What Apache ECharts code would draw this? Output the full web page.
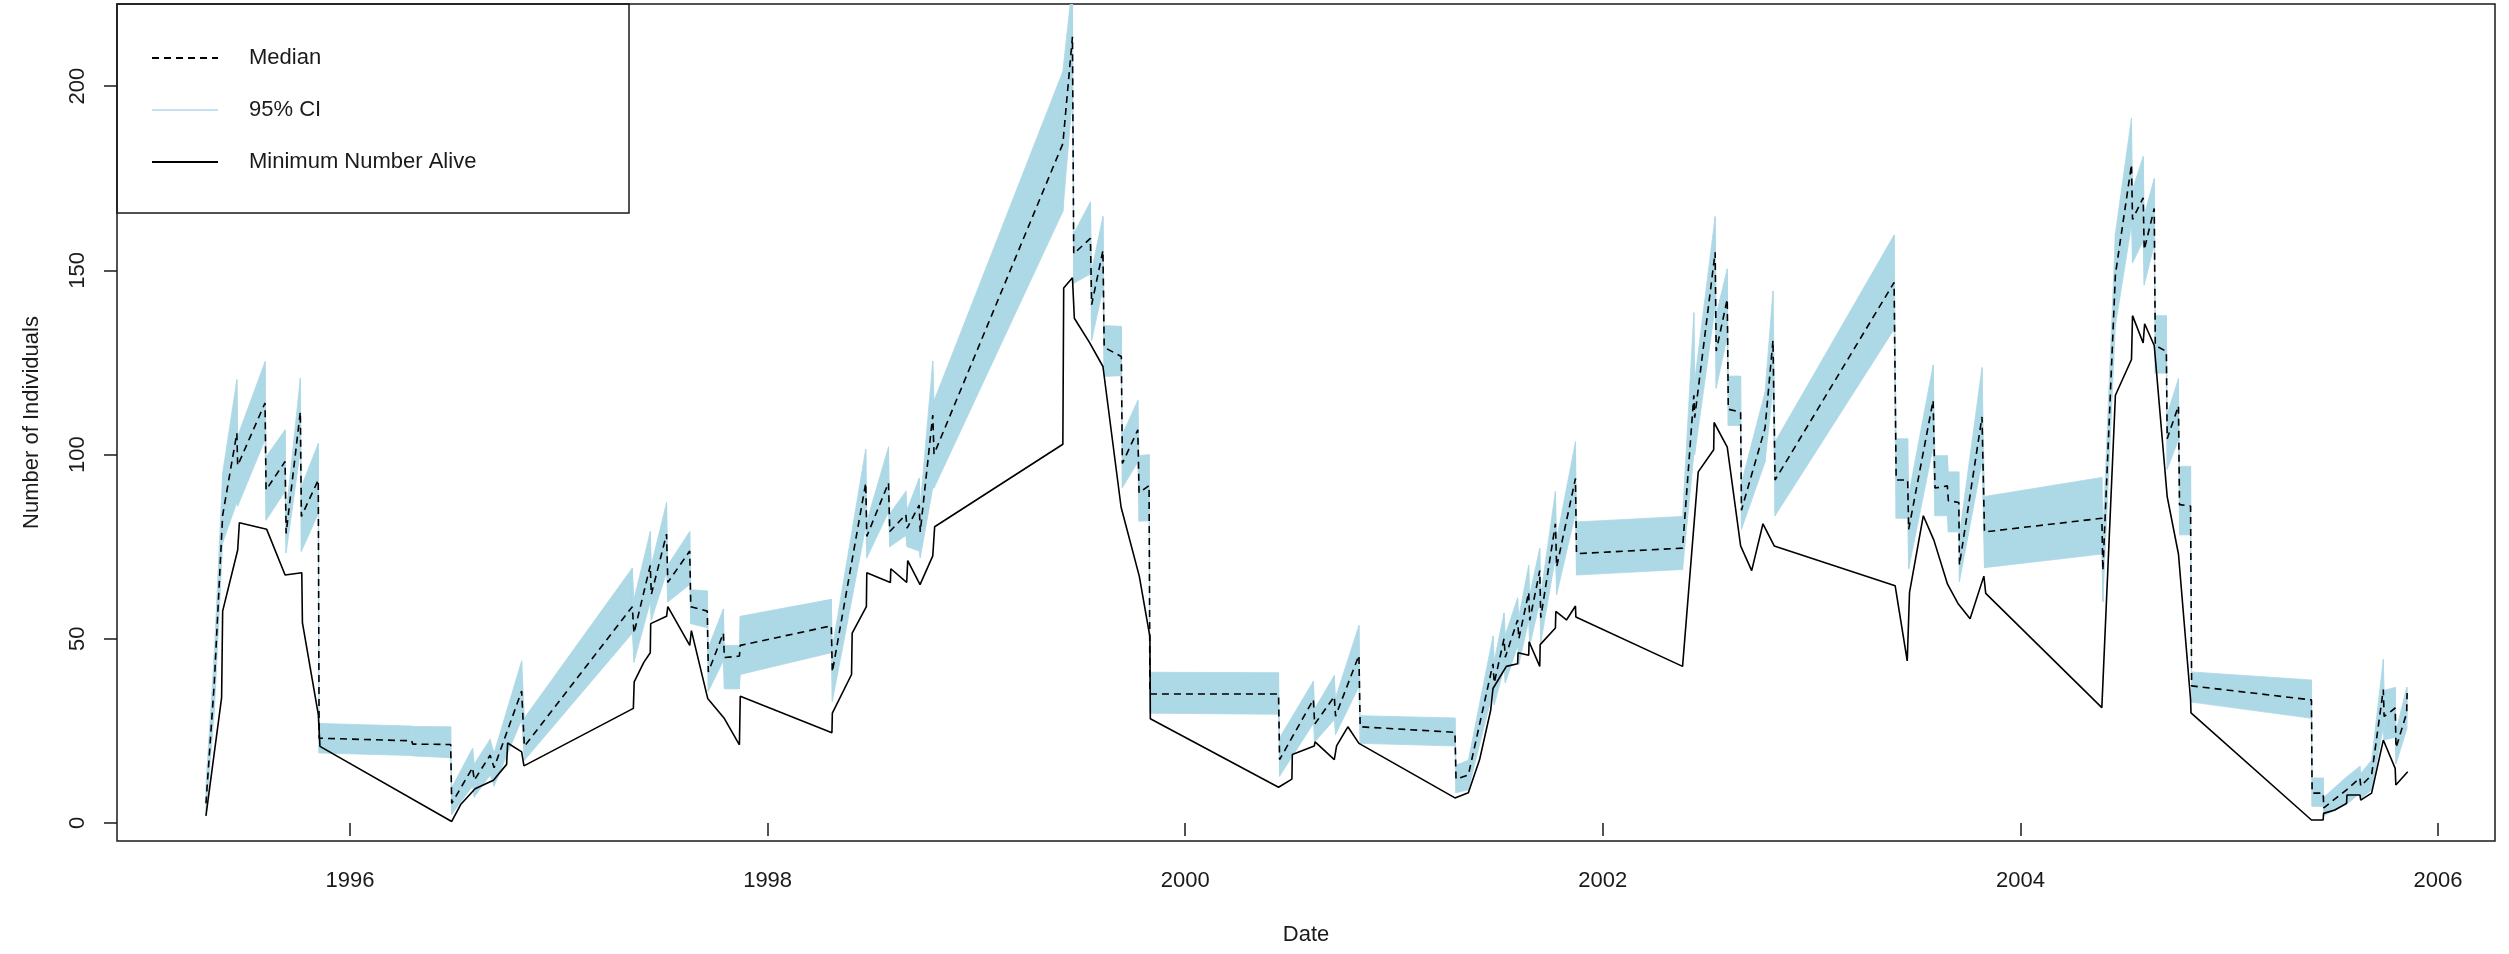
<!DOCTYPE html>
<html>
<head>
<meta charset="utf-8">
<script src="https://cdn.jsdelivr.net/npm/echarts@6/dist/echarts.min.js"></script>
<style>
    html, body { margin: 0; padding: 0; background: #fff; }
    #chart { width: 2509px; height: 954px; }
</style>
</head>
<body>
<div id="chart"></div>
<script>
// estimates (median + 95% CI), decimal years
const ciDates = [
    1995.310, 1995.350, 1995.390, 1995.458, 1995.462, 1995.593, 1995.598, 1995.689, 1995.694, 1995.762,
    1995.767, 1995.848, 1995.852, 1996.295, 1996.300, 1996.482, 1996.487, 1996.587, 1996.595, 1996.671,
    1996.690, 1996.822, 1996.835, 1997.352, 1997.360, 1997.438, 1997.443, 1997.516, 1997.522, 1997.627,
    1997.632, 1997.711, 1997.716, 1997.788, 1997.793, 1997.865, 1997.869, 1998.305, 1998.310, 1998.470,
    1998.475, 1998.579, 1998.585, 1998.662, 1998.668, 1998.726, 1998.731, 1998.791, 1998.797, 1999.414,
    1999.460, 1999.466, 1999.546, 1999.552, 1999.606, 1999.612, 1999.694, 1999.699, 1999.773, 1999.779,
    1999.827, 1999.831, 2000.447, 2000.452, 2000.614, 2000.620, 2000.714, 2000.720, 2000.832, 2000.838,
    2001.292, 2001.297, 2001.356, 2001.474, 2001.480, 2001.527, 2001.533, 2001.592, 2001.598, 2001.645,
    2001.650, 2001.698, 2001.703, 2001.773, 2001.779, 2001.869, 2001.874, 2002.382, 2002.436, 2002.440,
    2002.538, 2002.543, 2002.596, 2002.601, 2002.660, 2002.664, 2002.777, 2002.815, 2002.825, 2003.395,
    2003.405, 2003.460, 2003.465, 2003.582, 2003.591, 2003.650, 2003.655, 2003.705, 2003.708, 2003.816,
    2003.828, 2004.390, 2004.395, 2004.455, 2004.532, 2004.537, 2004.588, 2004.593, 2004.641, 2004.646,
    2004.699, 2004.703, 2004.757, 2004.762, 2004.815, 2004.820, 2005.394, 2005.397, 2005.450, 2005.453,
    2005.562, 2005.626, 2005.630, 2005.682, 2005.738, 2005.742, 2005.795, 2005.799, 2005.850, 2005.852
];
const ciLower = [
    3, 30, 76, 87, 86, 104, 82.2, 90, 73.3, 101,
    73.7, 84, 19, 18.3, 18.2, 17.7, 2.3, 10, 7, 13,
    10, 28, 17, 51.5, 43.6, 60, 55, 68, 60, 64.7,
    54.1, 53, 35.7, 44, 36.4, 36.4, 40.3, 46.2, 33, 80.4,
    71.9, 84.4, 75, 78, 75, 73.8, 72, 90.9, 90.9, 166,
    197, 146.5, 149, 131, 145, 121.2, 121.4, 91, 98, 81.9,
    82, 29.8, 29.5, 12.7, 27, 22, 28, 24, 37, 21.6,
    20.9, 8.2, 9, 35.8, 32, 42, 38, 48, 43, 55,
    48, 60, 49, 72, 62, 84, 67.3, 68.8, 100, 100,
    140, 118, 132, 107.9, 107.9, 79.7, 98, 118, 83.4, 134,
    82.7, 82.7, 69, 102, 83.4, 83.4, 79, 79, 65.5, 98,
    69.3, 73, 60, 135, 162.3, 152, 158, 146, 157, 122.1,
    122.1, 96, 104, 78.2, 78.2, 32.8, 28.4, 4.5, 4.5, 2,
    5, 8.1, 6.5, 9, 26, 22.6, 23.2, 16, 25.4, 29
];
const ciMedian = [
    5.3, 38, 83.5, 105.8, 97, 114, 90.4, 98.1, 78.6, 111.6,
    83.2, 93.1, 23, 22.3, 21.4, 21.3, 5.3, 15, 11.6, 18.4,
    15, 35.8, 20.8, 58.7, 51.5, 69.9, 62, 78.4, 65.3, 73.8,
    58.7, 57.5, 41, 51.5, 44.9, 45.3, 48.2, 53.5, 41, 92.3,
    77.8, 92.3, 79.1, 83.7, 80, 86.3, 79, 110.7, 100.1, 184.4,
    213.4, 154.5, 158.7, 140.7, 155.4, 129.1, 126.6, 97.6, 106.7, 89.6,
    91.6, 35, 35, 17.2, 33.5, 26.8, 34.3, 29, 45.5, 26.1,
    24.6, 11.9, 13, 43.2, 38, 50, 45, 55.1, 50, 62.6,
    55, 68.5, 55.7, 81.2, 69.5, 93.5, 73.1, 74.6, 116.1, 110,
    154.9, 128.1, 142.2, 112.3, 111.5, 84.9, 107.2, 131, 93.1, 146.7,
    93.1, 93.1, 79.7, 114.7, 90.9, 91.5, 87.5, 87, 70, 110.2,
    79, 82.7, 68.5, 148.9, 178.7, 163.8, 169.7, 155.6, 166.8, 129.6,
    128, 104.3, 113.2, 86.4, 86, 37.2, 33.4, 8.1, 8.1, 4.1,
    9, 12.2, 10, 13, 36.2, 28.9, 31.2, 20.4, 29.9, 35.3
];
const ciUpper = [
    10, 46, 95, 120.3, 105, 125.2, 99.4, 106.7, 84.2, 120.7,
    91.3, 103, 27, 26.3, 26.2, 26.1, 9.6, 20.3, 16, 22.7,
    19, 44, 28.5, 69.2, 60.7, 79.1, 70, 87, 70, 79.1,
    63.3, 63, 47.6, 58.1, 48.2, 48.2, 56.1, 60.7, 47.6, 101.5,
    81.8, 102.1, 84, 90, 85, 93.6, 86, 125.4, 114.6, 204,
    228, 160, 168.6, 150, 164.6, 135, 134.8, 105.5, 114.7, 99.7,
    100, 40.9, 40.8, 23.1, 38.5, 31, 40, 34, 53.6, 29.1,
    28.5, 15.7, 17, 50.7, 44, 57, 51, 61.1, 56, 70,
    62, 74.6, 62, 90, 77, 103.5, 81.7, 83.2, 138.5, 120,
    164.6, 138, 150.4, 121.3, 121.3, 92.3, 117, 144.4, 103.5, 159.6,
    104.3, 104.3, 89, 124.3, 99.7, 99.7, 95.3, 95.3, 78.2, 123.6,
    88.6, 93.8, 78, 160, 191.3, 172, 180.9, 165, 174.9, 137.7,
    137.7, 111, 120.6, 96.8, 96.8, 41, 38.8, 12.2, 12.2, 7,
    12.5, 15.4, 13.5, 17, 44.4, 36, 36.8, 25, 36.8, 36.8
];

// minimum number known alive
const mnaDates = [
    1995.310, 1995.385, 1995.390, 1995.462, 1995.470, 1995.601, 1995.689, 1995.769, 1995.772, 1995.848,
    1995.856, 1996.487, 1996.530, 1996.599, 1996.687, 1996.750, 1996.755, 1996.822, 1996.833, 1997.357,
    1997.361, 1997.407, 1997.438, 1997.440, 1997.516, 1997.522, 1997.627, 1997.635, 1997.713, 1997.791,
    1997.865, 1997.869, 1998.308, 1998.310, 1998.402, 1998.405, 1998.473, 1998.475, 1998.588, 1998.590,
    1998.666, 1998.671, 1998.730, 1998.791, 1998.800, 1999.414, 1999.418, 1999.460, 1999.469, 1999.542,
    1999.606, 1999.693, 1999.780, 1999.831, 1999.833, 2000.447, 2000.511, 2000.513, 2000.618, 2000.622,
    2000.714, 2000.725, 2000.779, 2000.832, 2001.292, 2001.356, 2001.410, 2001.463, 2001.474, 2001.538,
    2001.592, 2001.594, 2001.645, 2001.647, 2001.698, 2001.700, 2001.773, 2001.775, 2001.826, 2001.869,
    2001.871, 2002.382, 2002.457, 2002.531, 2002.533, 2002.596, 2002.660, 2002.713, 2002.767, 2002.821,
    2003.400, 2003.458, 2003.469, 2003.535, 2003.586, 2003.651, 2003.701, 2003.759, 2003.825, 2003.834,
    2004.390, 2004.455, 2004.532, 2004.537, 2004.588, 2004.595, 2004.641, 2004.703, 2004.757, 2004.815,
    2004.817, 2005.394, 2005.450, 2005.452, 2005.506, 2005.562, 2005.564, 2005.626, 2005.630, 2005.682,
    2005.738, 2005.795, 2005.798, 2005.855
];
const mnaValues = [
    1.9, 34.0, 57.5, 74.1, 81.5, 79.7, 67.3, 67.9, 54.4, 29.5,
    20.8, 0.4, 5, 9.3, 11.6, 15.9, 21.7, 19.3, 15.5, 31.1,
    38.3, 43.6, 46.2, 54.1, 56.1, 58.7, 48.2, 52.2, 33.8, 28.5,
    21.2, 34.4, 24.5, 29.8, 40.3, 51.5, 58.7, 67.9, 65.3, 69,
    65.3, 71.2, 64.7, 72.5, 80.4, 102.8, 145.2, 148, 137, 130.4,
    123.9, 85.7, 67, 50.5, 28.3, 9.7, 11.9, 18.6, 20.9, 22,
    17.2, 20.9, 26.1, 21.6, 6.8, 8.2, 17.2, 30.6, 36.5, 42.5,
    43.2, 46.2, 45.5, 49.2, 42.5, 48.4, 52.9, 57.4, 55.1, 58.9,
    55.9, 42.5, 95.3, 101.3, 108.7, 102, 75.2, 68.5, 81.2, 75.2,
    64.4, 44, 62.6, 83.4, 76.7, 64.8, 59.6, 55.4, 67, 62.3,
    31.3, 116.1, 125.8, 137.7, 130.3, 135.5, 129.6, 88.6, 73, 33.5,
    29.9, 0.8, 0.8, 2.6, 3.5, 5.3, 7.6, 7.6, 6.2, 8.1,
    22.5, 14.8, 10.3, 13.9
];

const xTicks = [1996, 1998, 2000, 2002, 2004, 2006];
const yTicks = [0, 50, 100, 150, 200];

const font = "'Liberation Sans', Arial, sans-serif";
const ink = '#1a1a1a';
const ciColor = '#ADD8E6';

// one quad per pair of consecutive estimates
const bandData = ciDates.slice(0, -1).map(function (d, i) {
    return [d, ciLower[i], ciUpper[i], ciDates[i + 1], ciLower[i + 1], ciUpper[i + 1]];
});

function renderBand(params, api) {
    const pts = [
        api.coord([api.value(0), api.value(1)]),
        api.coord([api.value(3), api.value(4)]),
        api.coord([api.value(3), api.value(5)]),
        api.coord([api.value(0), api.value(2)])
    ];
    return {
        type: 'polygon',
        shape: { points: pts },
        style: { fill: ciColor, stroke: ciColor, lineWidth: 0.8 }
    };
}

const option = {
    animation: false,
    backgroundColor: '#fff',
    grid: {
        left: 117, right: 14, top: 4, bottom: 113,
        show: true, borderColor: ink, borderWidth: 1.5
    },
    xAxis: {
        type: 'value',
        min: 1994.884,
        max: 2006.273,
        axisLine: { show: false },
        splitLine: { show: false },
        axisTick: { length: 13, customValues: xTicks, lineStyle: { color: ink, width: 1.5 } },
        axisLabel: {
            customValues: xTicks, margin: 29, fontSize: 22, color: ink, fontFamily: font,
            formatter: function (v) { return String(v); }
        },
        name: 'Date', nameLocation: 'middle', nameGap: 83,
        nameTextStyle: { fontSize: 22, color: ink, fontFamily: font }
    },
    yAxis: {
        type: 'value',
        min: -4.9,
        max: 222.3,
        axisLine: { show: false },
        splitLine: { show: false },
        axisTick: { length: 13, customValues: yTicks, lineStyle: { color: ink, width: 1.5 } },
        axisLabel: {
            customValues: yTicks, rotate: 90, margin: 28, fontSize: 22, color: ink, fontFamily: font,
            formatter: function (v) { return String(v); }
        },
        name: 'Number of Individuals', nameLocation: 'middle', nameGap: 74,
        nameTextStyle: { fontSize: 22, color: ink, fontFamily: font }
    },
    legend: {
        orient: 'vertical',
        left: 151, top: 47, padding: 0,
        itemWidth: 66, itemHeight: 14, itemGap: 30,
        itemStyle: { opacity: 0 },
        textStyle: { fontSize: 22, color: ink, fontFamily: font, padding: [0, 0, 0, 26] },
        data: [
            { name: 'Median' },
            {
                name: '95% CI',
                icon: 'path://M0,0 M66,14 M0,6.2 H66 V7.8 H0 Z',
                itemStyle: { color: ciColor, opacity: 1 }
            },
            { name: 'Minimum Number Alive' }
        ]
    },
    graphic: [{
        type: 'rect',
        z: -1,
        shape: { x: 117, y: 4, width: 512, height: 209 },
        style: { fill: '#fff', stroke: ink, lineWidth: 1.5 }
    }],
    series: [
        {
            name: '95% CI',
            type: 'custom',
            renderItem: renderBand,
            clip: true,
            silent: true,
            itemStyle: { color: ciColor },
            encode: { x: [0, 3], y: [1, 2, 4, 5] },
            data: bandData
        },
        {
            name: 'Median',
            type: 'line',
            symbol: 'none',
            color: '#000',
            lineStyle: { color: '#000', width: 1.6, type: [7, 5] },
            data: ciDates.map(function (d, i) { return [d, ciMedian[i]]; })
        },
        {
            name: 'Minimum Number Alive',
            type: 'line',
            symbol: 'none',
            color: '#000',
            lineStyle: { color: '#000', width: 1.6 },
            data: mnaDates.map(function (d, i) { return [d, mnaValues[i]]; })
        }
    ]
};

const chart = echarts.init(document.getElementById('chart'));
chart.setOption(option);
</script>
</body>
</html>
